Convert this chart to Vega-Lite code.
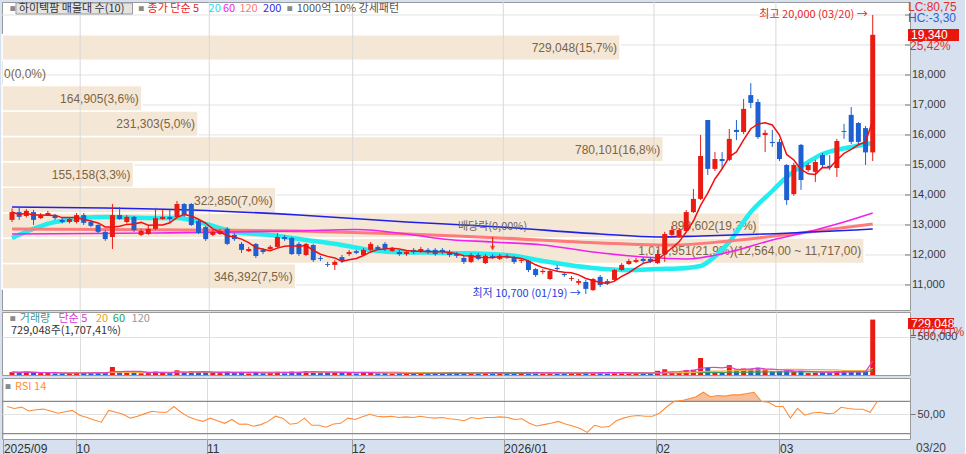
{
  "$schema": "https://vega.github.io/schema/vega-lite/v6.json",
  "background": "#d6e0ee",
  "padding": 0,
  "spacing": 0,
  "resolve": {"scale": {"x": "independent", "y": "independent"}},
  "config": {
    "view": {"fill": "white", "stroke": "#9a9a9a"},
    "axis": {"labelOverlap": false},
    "text": {"font": "Noto Sans CJK KR", "fontSize": 11, "baseline": "middle"}
  },
  "datasets": {
    "candles": [
      {"i":0,"d":"2025-09-17","o":13170,"h":13550,"l":13100,"c":13430,"v":38000,"rsi":62},
      {"i":1,"d":"2025-09-18","o":13430,"h":13600,"l":13170,"c":13270,"v":30000,"rsi":59},
      {"i":2,"d":"2025-09-19","o":13300,"h":13530,"l":13250,"c":13470,"v":45000,"rsi":61},
      {"i":3,"d":"2025-09-22","o":13430,"h":13500,"l":13000,"c":13170,"v":28000,"rsi":55},
      {"i":4,"d":"2025-09-23","o":13230,"h":13400,"l":13200,"c":13330,"v":25000,"rsi":57},
      {"i":5,"d":"2025-09-24","o":13330,"h":13470,"l":13300,"c":13400,"v":30000,"rsi":58},
      {"i":6,"d":"2025-09-25","o":13330,"h":13370,"l":13170,"c":13230,"v":22000,"rsi":55},
      {"i":7,"d":"2025-09-26","o":13170,"h":13230,"l":13050,"c":13100,"v":20000,"rsi":51.5},
      {"i":8,"d":"2025-09-29","o":13100,"h":13230,"l":13050,"c":13200,"v":25000,"rsi":54},
      {"i":9,"d":"2025-09-30","o":13100,"h":13400,"l":13050,"c":13330,"v":35000,"rsi":56},
      {"i":10,"d":"2025-10-01","o":13330,"h":13400,"l":13000,"c":13070,"v":30000,"rsi":48.5},
      {"i":11,"d":"2025-10-02","o":13100,"h":13150,"l":12930,"c":12970,"v":25000,"rsi":45},
      {"i":12,"d":"2025-10-10","o":13000,"h":13030,"l":12730,"c":12770,"v":28000,"rsi":41},
      {"i":13,"d":"2025-10-13","o":12770,"h":12830,"l":12470,"c":12530,"v":30000,"rsi":37.7},
      {"i":14,"d":"2025-10-14","o":12600,"h":13700,"l":12200,"c":13330,"v":105000,"rsi":56},
      {"i":15,"d":"2025-10-15","o":13330,"h":13600,"l":13170,"c":13200,"v":40000,"rsi":53},
      {"i":16,"d":"2025-10-16","o":13100,"h":13330,"l":13050,"c":13270,"v":30000,"rsi":50},
      {"i":17,"d":"2025-10-17","o":13270,"h":13300,"l":12770,"c":12830,"v":35000,"rsi":44},
      {"i":18,"d":"2025-10-20","o":12670,"h":12870,"l":12630,"c":12800,"v":22000,"rsi":47},
      {"i":19,"d":"2025-10-21","o":12700,"h":12970,"l":12670,"c":12870,"v":25000,"rsi":51},
      {"i":20,"d":"2025-10-22","o":12870,"h":13570,"l":12830,"c":13230,"v":45000,"rsi":54.6},
      {"i":21,"d":"2025-10-23","o":13200,"h":13500,"l":13170,"c":13270,"v":28000,"rsi":53},
      {"i":22,"d":"2025-10-24","o":13270,"h":13500,"l":13100,"c":13200,"v":25000,"rsi":53},
      {"i":23,"d":"2025-10-27","o":13270,"h":13800,"l":13230,"c":13700,"v":62000,"rsi":62},
      {"i":24,"d":"2025-10-28","o":13700,"h":13730,"l":13270,"c":13330,"v":35000,"rsi":53},
      {"i":25,"d":"2025-10-29","o":13700,"h":13730,"l":12970,"c":13000,"v":48000,"rsi":46},
      {"i":26,"d":"2025-10-30","o":13130,"h":13170,"l":12700,"c":12730,"v":40000,"rsi":42},
      {"i":27,"d":"2025-10-31","o":12930,"h":12970,"l":12470,"c":12530,"v":35000,"rsi":39},
      {"i":28,"d":"2025-11-03","o":12670,"h":12830,"l":12630,"c":12770,"v":30000,"rsi":44},
      {"i":29,"d":"2025-11-04","o":12700,"h":12870,"l":12670,"c":12800,"v":25000,"rsi":40},
      {"i":30,"d":"2025-11-05","o":12870,"h":12930,"l":12330,"c":12370,"v":45000,"rsi":36},
      {"i":31,"d":"2025-11-06","o":12670,"h":12730,"l":12470,"c":12530,"v":25000,"rsi":42},
      {"i":32,"d":"2025-11-07","o":12370,"h":12430,"l":12070,"c":12170,"v":38000,"rsi":34.6},
      {"i":33,"d":"2025-11-10","o":12130,"h":12270,"l":12100,"c":12200,"v":20000,"rsi":35},
      {"i":34,"d":"2025-11-11","o":12370,"h":12400,"l":11900,"c":11970,"v":40000,"rsi":31.5},
      {"i":35,"d":"2025-11-12","o":12170,"h":12230,"l":12030,"c":12100,"v":22000,"rsi":34},
      {"i":36,"d":"2025-11-13","o":12200,"h":12330,"l":12170,"c":12270,"v":25000,"rsi":39},
      {"i":37,"d":"2025-11-14","o":12270,"h":12730,"l":12230,"c":12600,"v":42000,"rsi":47},
      {"i":38,"d":"2025-11-17","o":12600,"h":12670,"l":12470,"c":12530,"v":22000,"rsi":44},
      {"i":39,"d":"2025-11-18","o":12570,"h":12600,"l":12000,"c":12030,"v":45000,"rsi":34.6},
      {"i":40,"d":"2025-11-19","o":12370,"h":12430,"l":11970,"c":12030,"v":35000,"rsi":36},
      {"i":41,"d":"2025-11-20","o":12000,"h":12400,"l":11970,"c":12370,"v":50000,"rsi":44},
      {"i":42,"d":"2025-11-21","o":12330,"h":12370,"l":11770,"c":11830,"v":48000,"rsi":33},
      {"i":43,"d":"2025-11-24","o":11900,"h":11970,"l":11800,"c":11870,"v":25000,"rsi":33},
      {"i":44,"d":"2025-11-25","o":11700,"h":11770,"l":11600,"c":11670,"v":30000,"rsi":30},
      {"i":45,"d":"2025-11-26","o":11670,"h":11830,"l":11500,"c":11770,"v":38000,"rsi":35},
      {"i":46,"d":"2025-11-27","o":11930,"h":12000,"l":11730,"c":11800,"v":30000,"rsi":36},
      {"i":47,"d":"2025-11-28","o":12030,"h":12170,"l":11970,"c":12100,"v":35000,"rsi":44},
      {"i":48,"d":"2025-12-01","o":12130,"h":12170,"l":12030,"c":12070,"v":20000,"rsi":42},
      {"i":49,"d":"2025-12-02","o":12000,"h":12230,"l":11970,"c":12170,"v":30000,"rsi":46},
      {"i":50,"d":"2025-12-03","o":12170,"h":12430,"l":12130,"c":12370,"v":38000,"rsi":50},
      {"i":51,"d":"2025-12-04","o":12270,"h":12330,"l":12170,"c":12200,"v":20000,"rsi":47},
      {"i":52,"d":"2025-12-05","o":12370,"h":12430,"l":12130,"c":12200,"v":25000,"rsi":46},
      {"i":53,"d":"2025-12-08","o":12130,"h":12270,"l":12100,"c":12200,"v":18000,"rsi":47},
      {"i":54,"d":"2025-12-09","o":12100,"h":12170,"l":11970,"c":12030,"v":22000,"rsi":45},
      {"i":55,"d":"2025-12-10","o":12030,"h":12170,"l":11970,"c":12100,"v":20000,"rsi":46},
      {"i":56,"d":"2025-12-11","o":12170,"h":12230,"l":12030,"c":12100,"v":18000,"rsi":45},
      {"i":57,"d":"2025-12-12","o":12130,"h":12270,"l":12070,"c":12200,"v":22000,"rsi":47},
      {"i":58,"d":"2025-12-15","o":12170,"h":12230,"l":12030,"c":12100,"v":18000,"rsi":45},
      {"i":59,"d":"2025-12-16","o":12170,"h":12230,"l":11970,"c":12030,"v":25000,"rsi":44},
      {"i":60,"d":"2025-12-17","o":12170,"h":12230,"l":12030,"c":12100,"v":20000,"rsi":45},
      {"i":61,"d":"2025-12-18","o":12100,"h":12170,"l":11930,"c":12000,"v":22000,"rsi":43},
      {"i":62,"d":"2025-12-19","o":12030,"h":12100,"l":11900,"c":11970,"v":18000,"rsi":42},
      {"i":63,"d":"2025-12-22","o":11900,"h":11970,"l":11700,"c":11770,"v":25000,"rsi":40},
      {"i":64,"d":"2025-12-23","o":11770,"h":12070,"l":11730,"c":12000,"v":30000,"rsi":45},
      {"i":65,"d":"2025-12-24","o":12000,"h":12070,"l":11830,"c":11870,"v":20000,"rsi":43},
      {"i":66,"d":"2025-12-26","o":11730,"h":12030,"l":11700,"c":11970,"v":28000,"rsi":45},
      {"i":67,"d":"2025-12-29","o":11970,"h":12030,"l":11870,"c":11930,"v":20000,"rsi":45},
      {"i":68,"d":"2025-12-30","o":11870,"h":12030,"l":11830,"c":11970,"v":22000,"rsi":46},
      {"i":69,"d":"2026-01-02","o":11970,"h":12030,"l":11870,"c":11930,"v":18000,"rsi":45},
      {"i":70,"d":"2026-01-05","o":11930,"h":11970,"l":11700,"c":11770,"v":25000,"rsi":42},
      {"i":71,"d":"2026-01-06","o":11800,"h":11900,"l":11730,"c":11830,"v":18000,"rsi":43},
      {"i":72,"d":"2026-01-07","o":11800,"h":11830,"l":11430,"c":11500,"v":40000,"rsi":36},
      {"i":73,"d":"2026-01-08","o":11530,"h":11570,"l":11270,"c":11330,"v":35000,"rsi":32},
      {"i":74,"d":"2026-01-09","o":11430,"h":11530,"l":11370,"c":11470,"v":20000,"rsi":34},
      {"i":75,"d":"2026-01-12","o":11200,"h":11530,"l":11170,"c":11470,"v":30000,"rsi":36},
      {"i":76,"d":"2026-01-13","o":11570,"h":11670,"l":11470,"c":11530,"v":22000,"rsi":39},
      {"i":77,"d":"2026-01-14","o":11370,"h":11430,"l":11270,"c":11330,"v":25000,"rsi":35},
      {"i":78,"d":"2026-01-15","o":11200,"h":11300,"l":11130,"c":11230,"v":20000,"rsi":32},
      {"i":79,"d":"2026-01-16","o":11070,"h":11200,"l":11000,"c":11130,"v":22000,"rsi":28},
      {"i":80,"d":"2026-01-19","o":11100,"h":11170,"l":10700,"c":10870,"v":38000,"rsi":22},
      {"i":81,"d":"2026-01-20","o":10830,"h":11230,"l":10800,"c":11200,"v":40000,"rsi":33},
      {"i":82,"d":"2026-01-21","o":11270,"h":11330,"l":10930,"c":11000,"v":30000,"rsi":30},
      {"i":83,"d":"2026-01-22","o":11130,"h":11200,"l":11000,"c":11070,"v":20000,"rsi":31},
      {"i":84,"d":"2026-01-23","o":11170,"h":11530,"l":11130,"c":11500,"v":35000,"rsi":40},
      {"i":85,"d":"2026-01-26","o":11500,"h":11730,"l":11470,"c":11670,"v":30000,"rsi":44},
      {"i":86,"d":"2026-01-27","o":11700,"h":11870,"l":11670,"c":11800,"v":22000,"rsi":47},
      {"i":87,"d":"2026-01-28","o":11770,"h":11900,"l":11730,"c":11830,"v":20000,"rsi":48},
      {"i":88,"d":"2026-01-29","o":11870,"h":11930,"l":11730,"c":11800,"v":22000,"rsi":47},
      {"i":89,"d":"2026-01-30","o":11870,"h":11930,"l":11730,"c":11800,"v":25000,"rsi":47},
      {"i":90,"d":"2026-02-02","o":11730,"h":12170,"l":11700,"c":12030,"v":55000,"rsi":52},
      {"i":91,"d":"2026-02-03","o":12030,"h":12770,"l":11770,"c":12700,"v":75000,"rsi":62},
      {"i":92,"d":"2026-02-04","o":12670,"h":12970,"l":12600,"c":12830,"v":35000,"rsi":70},
      {"i":93,"d":"2026-02-05","o":12600,"h":12900,"l":12570,"c":12830,"v":40000,"rsi":71},
      {"i":94,"d":"2026-02-06","o":12800,"h":13500,"l":12770,"c":13430,"v":65000,"rsi":74},
      {"i":95,"d":"2026-02-09","o":13430,"h":14200,"l":13400,"c":13870,"v":70000,"rsi":77},
      {"i":96,"d":"2026-02-10","o":13870,"h":16000,"l":13830,"c":15300,"v":224000,"rsi":84},
      {"i":97,"d":"2026-02-11","o":16500,"h":16500,"l":14670,"c":14870,"v":95000,"rsi":77},
      {"i":98,"d":"2026-02-12","o":14870,"h":15430,"l":14800,"c":15200,"v":45000,"rsi":79},
      {"i":99,"d":"2026-02-13","o":15200,"h":15430,"l":14870,"c":15130,"v":35000,"rsi":78},
      {"i":100,"d":"2026-02-19","o":15170,"h":16200,"l":15130,"c":15870,"v":130000,"rsi":80},
      {"i":101,"d":"2026-02-20","o":16170,"h":16500,"l":15830,"c":16100,"v":70000,"rsi":80},
      {"i":102,"d":"2026-02-23","o":16100,"h":17200,"l":16030,"c":16870,"v":85000,"rsi":82},
      {"i":103,"d":"2026-02-24","o":17330,"h":17730,"l":16900,"c":17070,"v":80000,"rsi":84},
      {"i":104,"d":"2026-02-25","o":17100,"h":17200,"l":15870,"c":15930,"v":95000,"rsi":70},
      {"i":105,"d":"2026-02-26","o":16000,"h":16170,"l":15430,"c":16070,"v":75000,"rsi":68.5},
      {"i":106,"d":"2026-02-27","o":15770,"h":16170,"l":15600,"c":15730,"v":45000,"rsi":62},
      {"i":107,"d":"2026-03-03","o":15770,"h":15870,"l":15130,"c":15200,"v":50000,"rsi":62},
      {"i":108,"d":"2026-03-04","o":15000,"h":15030,"l":13670,"c":13830,"v":60000,"rsi":44},
      {"i":109,"d":"2026-03-05","o":14030,"h":15070,"l":13970,"c":15000,"v":45000,"rsi":59},
      {"i":110,"d":"2026-03-06","o":15670,"h":15700,"l":14170,"c":14500,"v":55000,"rsi":48.5},
      {"i":111,"d":"2026-03-09","o":14830,"h":15070,"l":14770,"c":15000,"v":25000,"rsi":52},
      {"i":112,"d":"2026-03-10","o":14770,"h":15170,"l":14430,"c":15100,"v":30000,"rsi":53},
      {"i":113,"d":"2026-03-11","o":15330,"h":15400,"l":14930,"c":15000,"v":35000,"rsi":51},
      {"i":114,"d":"2026-03-12","o":14970,"h":15330,"l":14830,"c":14930,"v":25000,"rsi":51.5},
      {"i":115,"d":"2026-03-13","o":14900,"h":15870,"l":14600,"c":15800,"v":50000,"rsi":60.8},
      {"i":116,"d":"2026-03-16","o":16130,"h":16370,"l":15870,"c":16100,"v":50000,"rsi":59},
      {"i":117,"d":"2026-03-17","o":16670,"h":16930,"l":15700,"c":15770,"v":45000,"rsi":57.7},
      {"i":118,"d":"2026-03-18","o":16400,"h":16430,"l":15700,"c":15770,"v":40000,"rsi":57.7},
      {"i":119,"d":"2026-03-19","o":16230,"h":16300,"l":15000,"c":15420,"v":42700,"rsi":53},
      {"i":120,"d":"2026-03-20","o":15420,"h":20000,"l":15130,"c":19340,"v":729048,"rsi":70}
    ],
    "ma": [
      {"k":"20","i":0,"p":12567},{"k":"20","i":6,"p":13100},{"k":"20","i":13,"p":13267},{"k":"20","i":20,"p":13233},
      {"k":"20","i":23,"p":13233},{"k":"20","i":27,"p":13033},{"k":"20","i":31,"p":12767},{"k":"20","i":36,"p":12667},
      {"k":"20","i":41,"p":12500},{"k":"20","i":46,"p":12333},{"k":"20","i":49,"p":12200},{"k":"20","i":53,"p":12100},
      {"k":"20","i":61,"p":12067},{"k":"20","i":69,"p":12000},{"k":"20","i":74,"p":11800},{"k":"20","i":81,"p":11567},
      {"k":"20","i":86,"p":11500},{"k":"20","i":90,"p":11533},{"k":"20","i":93,"p":11550},{"k":"20","i":96,"p":11633},
      {"k":"20","i":98,"p":11950},{"k":"20","i":100,"p":12433},{"k":"20","i":103,"p":13433},{"k":"20","i":106,"p":14133},
      {"k":"20","i":108,"p":14600},{"k":"20","i":111,"p":15100},{"k":"20","i":113,"p":15367},{"k":"20","i":117,"p":15600},
      {"k":"20","i":120,"p":15733},
      {"k":"60","i":0,"p":12700},{"k":"60","i":20,"p":12733},{"k":"60","i":40,"p":12800},{"k":"60","i":48,"p":12850},
      {"k":"60","i":55,"p":12700},{"k":"60","i":60,"p":12533},{"k":"60","i":67,"p":12433},{"k":"60","i":74,"p":12333},
      {"k":"60","i":81,"p":12100},{"k":"60","i":88,"p":11933},{"k":"60","i":94,"p":11867},{"k":"60","i":100,"p":12100},
      {"k":"60","i":106,"p":12500},{"k":"60","i":112,"p":12833},{"k":"60","i":116,"p":13100},{"k":"60","i":120,"p":13400},
      {"k":"120","i":0,"p":12867},{"k":"120","i":25,"p":12833},{"k":"120","i":40,"p":12800},{"k":"120","i":55,"p":12700},
      {"k":"120","i":62,"p":12633},{"k":"120","i":68,"p":12567},{"k":"120","i":82,"p":12400},{"k":"120","i":92,"p":12333},
      {"k":"120","i":100,"p":12467},{"k":"120","i":110,"p":12733},{"k":"120","i":120,"p":13033},
      {"k":"200","i":0,"p":13600},{"k":"200","i":13,"p":13567},{"k":"200","i":25,"p":13500},{"k":"200","i":40,"p":13333},
      {"k":"200","i":55,"p":13100},{"k":"200","i":68,"p":12933},{"k":"200","i":82,"p":12700},{"k":"200","i":90,"p":12600},
      {"k":"200","i":96,"p":12633},{"k":"200","i":105,"p":12700},{"k":"200","i":120,"p":12867}
    ],
    "profile": [
      {"lo":10870,"hi":11717,"v":346392,"t":"346,392(7,5%)"},
      {"lo":11717,"hi":12564,"v":1016951,"t":"1,016,951(21,9%)(12,564,00 ~ 11,717,00)"},
      {"lo":12564,"hi":13411,"v":893602,"t":"893,602(19,3%)"},
      {"lo":13411,"hi":14258,"v":322850,"t":"322,850(7,0%)"},
      {"lo":14258,"hi":15105,"v":155158,"t":"155,158(3,3%)"},
      {"lo":15105,"hi":15952,"v":780101,"t":"780,101(16,8%)"},
      {"lo":15952,"hi":16799,"v":231303,"t":"231,303(5,0%)"},
      {"lo":16799,"hi":17646,"v":164905,"t":"164,905(3,6%)"},
      {"lo":17646,"hi":18493,"v":0,"t":"0(0,0%)"},
      {"lo":18493,"hi":19340,"v":729048,"t":"729,048(15,7%)"}
    ],
    "pticks": [
      {"p":11000,"t":"11,000"},{"p":12000,"t":"12,000"},{"p":13000,"t":"13,000"},{"p":14000,"t":"14,000"},
      {"p":15000,"t":"15,000"},{"p":16000,"t":"16,000"},{"p":17000,"t":"17,000"},{"p":18000,"t":"18,000"},
      {"p":19000,"t":"19,000"},{"p":20000,"t":"20,000"}
    ],
    "months": [
      {"b":9.5},{"b":27.5},{"b":47.5},{"b":68.5},{"b":89.5},{"b":106.5}
    ]
  },
  "vconcat": [
    {
      "width": 908,
      "height": 308,
      "resolve": {"scale": {"x": "independent"}},
      "layer": [
        {
          "data": {"name": "profile"},
          "encoding": {
            "y": {"field": "lo", "type": "quantitative", "scale": {"domain": [10166, 20433], "nice": false, "zero": false}, "axis": null}
          },
          "layer": [
            {
              "data": {"name": "pticks"},
              "mark": {"type": "rule", "color": "#e2e2e2", "strokeWidth": 1},
              "encoding": {"y": {"field": "p", "type": "quantitative", "axis": null}}
            },
            {
              "mark": {"type": "bar", "color": "#f5e7d6", "stroke": "white", "strokeWidth": 1.5},
              "encoding": {
                "x": {"field": "v", "type": "quantitative", "scale": {"domain": [0, 1071000], "nice": false}, "axis": null},
                "x2": {"datum": 0},
                "y2": {"field": "hi"}
              }
            },
            {
              "transform": [{"filter": "datum.v > 0"}],
              "mark": {"type": "text", "align": "right", "dx": -3, "dy": -12, "font": "Liberation Sans", "fontSize": 12, "color": "#7a6446"},
              "encoding": {
                "x": {"field": "v", "type": "quantitative", "axis": null},
                "text": {"field": "t"}
              }
            },
            {
              "transform": [{"filter": "datum.v == 0"}],
              "mark": {"type": "text", "align": "left", "dx": 2, "dy": -12, "font": "Liberation Sans", "fontSize": 12, "color": "#7a6446"},
              "encoding": {
                "x": {"field": "v", "type": "quantitative", "axis": null},
                "text": {"field": "t"}
              }
            }
          ]
        },
        {
          "data": {"name": "candles"},
          "layer": [
            {
              "data": {"name": "months"},
              "mark": {"type": "rule", "color": "#d8d8d8", "strokeWidth": 1},
              "encoding": {"x": {"field": "b", "type": "quantitative", "scale": {"domain": [-0.7, 124.5], "nice": false, "zero": false}, "axis": null}}
            },
            {
              "data": {"name": "ma"},
              "transform": [{"filter": "datum.k == '20'"}],
              "mark": {"type": "line", "color": "#22eef0", "strokeWidth": 4.5, "interpolate": "monotone"},
              "encoding": {
                "x": {"field": "i", "type": "quantitative", "scale": {"domain": [-0.7, 124.5], "nice": false, "zero": false}, "axis": null},
                "y": {"field": "p", "type": "quantitative", "scale": {"domain": [10166, 20433], "nice": false, "zero": false}, "axis": null}
              }
            },
            {
              "data": {"name": "ma"},
              "transform": [{"filter": "datum.k == '120'"}],
              "mark": {"type": "line", "color": "#ff7a7a", "strokeWidth": 3, "interpolate": "monotone"},
              "encoding": {"x": {"field": "i", "type": "quantitative", "axis": null}, "y": {"field": "p", "type": "quantitative", "axis": null}}
            },
            {
              "data": {"name": "ma"},
              "transform": [{"filter": "datum.k == '60'"}],
              "mark": {"type": "line", "color": "#f022f0", "strokeWidth": 1.6, "interpolate": "monotone"},
              "encoding": {"x": {"field": "i", "type": "quantitative", "axis": null}, "y": {"field": "p", "type": "quantitative", "axis": null}}
            },
            {
              "data": {"name": "ma"},
              "transform": [{"filter": "datum.k == '200'"}],
              "mark": {"type": "line", "color": "#2020e8", "strokeWidth": 1.6, "interpolate": "monotone"},
              "encoding": {"x": {"field": "i", "type": "quantitative", "axis": null}, "y": {"field": "p", "type": "quantitative", "axis": null}}
            },
            {
              "mark": {"type": "rule", "strokeWidth": 1},
              "encoding": {
                "x": {"field": "i", "type": "quantitative", "axis": null},
                "y": {"field": "l", "type": "quantitative", "axis": null},
                "y2": {"field": "h"},
                "color": {"condition": {"test": "datum.c >= datum.o", "value": "#ea1b13"}, "value": "#1e60d2"}
              }
            },
            {
              "mark": {"type": "bar", "size": 5},
              "encoding": {
                "x": {"field": "i", "type": "quantitative", "axis": null},
                "y": {"field": "o", "type": "quantitative", "axis": null},
                "y2": {"field": "c"},
                "color": {"condition": {"test": "datum.c >= datum.o", "value": "#ea1b13"}, "value": "#1e60d2"}
              }
            },
            {
              "transform": [{"window": [{"op": "mean", "field": "c", "as": "ma5"}], "frame": [-4, 0], "sort": [{"field": "i"}]}],
              "mark": {"type": "line", "color": "#f01010", "strokeWidth": 1.5},
              "encoding": {"x": {"field": "i", "type": "quantitative", "axis": null}, "y": {"field": "ma5", "type": "quantitative", "axis": null}}
            },
            {
              "data": {"name": "pticks"},
              "mark": {"type": "rule", "color": "#777777", "x2Offset": 5},
              "encoding": {
                "x": {"datum": 124.5, "type": "quantitative", "axis": null}, "x2": {"datum": 124.5},
                "y": {"field": "p", "type": "quantitative", "axis": null}
              }
            },
            {
              "data": {"name": "pticks"},
              "transform": [{"filter": "datum.p <= 18000"}],
              "mark": {"type": "text", "align": "left", "dx": 7, "font": "Liberation Sans", "fontSize": 11, "color": "#3a3a3a"},
              "encoding": {
                "x": {"datum": 124.5, "type": "quantitative", "axis": null},
                "y": {"field": "p", "type": "quantitative", "axis": null},
                "text": {"field": "t"}
              }
            },
            {
              "data": {"values": [{}]},
              "mark": {"type": "rect", "fill": "#e4e4e4", "stroke": "#9a9a9a", "strokeWidth": 1},
              "encoding": {
                "x": {"datum": 0.55, "type": "quantitative", "axis": null}, "x2": {"datum": 16.8},
                "y": {"datum": 20400, "type": "quantitative", "axis": null}, "y2": {"datum": 20033}
              }
            },
            {
              "data": {"values": [{}]},
              "mark": {"type": "text", "text": "하이텍팜 매물대 수(10)", "align": "left", "color": "#333333"},
              "encoding": {"x": {"datum": 0.95, "type": "quantitative", "axis": null}, "y": {"datum": 20210, "type": "quantitative", "axis": null}}
            },
            {
              "data": {"values": [{}]},
              "mark": {"type": "text", "text": "■", "align": "left", "fontSize": 6, "color": "#8a8a8a"},
              "encoding": {"x": {"datum": -0.3, "type": "quantitative", "axis": null}, "y": {"datum": 20210, "type": "quantitative", "axis": null}}
            },
            {
              "data": {"values": [{}]},
              "mark": {"type": "text", "text": "■", "align": "left", "fontSize": 6, "color": "#8a8a8a"},
              "encoding": {"x": {"datum": 17.6, "type": "quantitative", "axis": null}, "y": {"datum": 20210, "type": "quantitative", "axis": null}}
            },
            {
              "data": {"values": [{}]},
              "mark": {"type": "text", "text": "■", "align": "left", "fontSize": 6, "color": "#8a8a8a"},
              "encoding": {"x": {"datum": 38.3, "type": "quantitative", "axis": null}, "y": {"datum": 20210, "type": "quantitative", "axis": null}}
            },
            {
              "data": {"values": [{}]},
              "mark": {"type": "text", "text": "종가 단순 5", "align": "left", "color": "#ee2222"},
              "encoding": {"x": {"datum": 18.9, "type": "quantitative", "axis": null}, "y": {"datum": 20210, "type": "quantitative", "axis": null}}
            },
            {
              "data": {"values": [{}]},
              "mark": {"type": "text", "text": "20", "align": "left", "color": "#22dcee"},
              "encoding": {"x": {"datum": 27.4, "type": "quantitative", "axis": null}, "y": {"datum": 20210, "type": "quantitative", "axis": null}}
            },
            {
              "data": {"values": [{}]},
              "mark": {"type": "text", "text": "60", "align": "left", "color": "#ee22ee"},
              "encoding": {"x": {"datum": 29.4, "type": "quantitative", "axis": null}, "y": {"datum": 20210, "type": "quantitative", "axis": null}}
            },
            {
              "data": {"values": [{}]},
              "mark": {"type": "text", "text": "120", "align": "left", "color": "#ff7a7a"},
              "encoding": {"x": {"datum": 31.7, "type": "quantitative", "axis": null}, "y": {"datum": 20210, "type": "quantitative", "axis": null}}
            },
            {
              "data": {"values": [{}]},
              "mark": {"type": "text", "text": "200", "align": "left", "color": "#3030e0"},
              "encoding": {"x": {"datum": 35.0, "type": "quantitative", "axis": null}, "y": {"datum": 20210, "type": "quantitative", "axis": null}}
            },
            {
              "data": {"values": [{}]},
              "mark": {"type": "text", "text": "1000억 10% 강세패턴", "align": "left", "color": "#555555"},
              "encoding": {"x": {"datum": 39.7, "type": "quantitative", "axis": null}, "y": {"datum": 20210, "type": "quantitative", "axis": null}}
            },
            {
              "data": {"values": [{}]},
              "mark": {"type": "text", "text": "최고 20,000 (03/20) →", "align": "right", "dx": -5, "color": "#e8261c"},
              "encoding": {"x": {"datum": 120, "type": "quantitative", "axis": null}, "y": {"datum": 20000, "type": "quantitative", "axis": null}}
            },
            {
              "data": {"values": [{}]},
              "mark": {"type": "text", "text": "최저 10,700 (01/19) →", "align": "right", "dx": -5, "color": "#2a3fd8"},
              "encoding": {"x": {"datum": 80, "type": "quantitative", "axis": null}, "y": {"datum": 10700, "type": "quantitative", "axis": null}}
            },
            {
              "data": {"values": [{}]},
              "mark": {"type": "text", "text": "배당락(0,00%)", "color": "#666666"},
              "encoding": {"x": {"datum": 67, "type": "quantitative", "axis": null}, "y": {"datum": 12933, "type": "quantitative", "axis": null}}
            },
            {
              "data": {"values": [{}]},
              "mark": {"type": "rule", "color": "#e8261c", "strokeWidth": 1.2},
              "encoding": {"x": {"datum": 67, "type": "quantitative", "axis": null}, "y": {"datum": 12600, "type": "quantitative", "axis": null}, "y2": {"datum": 12200}}
            },
            {
              "data": {"values": [{}]},
              "mark": {"type": "point", "shape": "triangle-down", "filled": true, "size": 30, "color": "#e8261c"},
              "encoding": {"x": {"datum": 67, "type": "quantitative", "axis": null}, "y": {"datum": 12230, "type": "quantitative", "axis": null}}
            },
            {
              "data": {"values": [{}]},
              "mark": {"type": "text", "text": "LC:80,75", "align": "left", "dx": 3, "font": "Liberation Sans", "fontSize": 12, "color": "#e03030"},
              "encoding": {"x": {"datum": 124.5, "type": "quantitative", "axis": null}, "y": {"datum": 20267, "type": "quantitative", "axis": null}}
            },
            {
              "data": {"values": [{}]},
              "mark": {"type": "text", "text": "HC:-3,30", "align": "left", "dx": 3, "font": "Liberation Sans", "fontSize": 12, "color": "#3060d0"},
              "encoding": {"x": {"datum": 124.5, "type": "quantitative", "axis": null}, "y": {"datum": 19900, "type": "quantitative", "axis": null}}
            },
            {
              "data": {"values": [{}]},
              "mark": {"type": "rect", "fill": "#e8170e", "xOffset": 3, "x2Offset": 54},
              "encoding": {
                "x": {"datum": 124.5, "type": "quantitative", "axis": null}, "x2": {"datum": 124.5},
                "y": {"datum": 19533, "type": "quantitative", "axis": null}, "y2": {"datum": 19133}
              }
            },
            {
              "data": {"values": [{}]},
              "mark": {"type": "text", "text": "19,340", "align": "left", "dx": 6, "font": "Liberation Sans", "fontSize": 12, "color": "white"},
              "encoding": {"x": {"datum": 124.5, "type": "quantitative", "axis": null}, "y": {"datum": 19340, "type": "quantitative", "axis": null}}
            },
            {
              "data": {"values": [{}]},
              "mark": {"type": "text", "text": "25,42%", "align": "left", "dx": 5, "font": "Liberation Sans", "fontSize": 12, "color": "#e03030"},
              "encoding": {"x": {"datum": 124.5, "type": "quantitative", "axis": null}, "y": {"datum": 18967, "type": "quantitative", "axis": null}}
            }
          ]
        }
      ]
    },
    {
      "width": 908,
      "height": 63,
      "data": {"name": "candles"},
      "layer": [
        {
          "mark": {"type": "bar", "size": 5},
          "encoding": {
            "x": {"field": "i", "type": "quantitative", "scale": {"domain": [-0.7, 124.5], "nice": false, "zero": false},
              "axis": {"values": [9.5, 27.5, 47.5, 68.5, 89.5, 106.5], "grid": true, "gridColor": "#dcdcdc", "labels": false, "ticks": false, "domain": false, "title": null}},
            "y": {"field": "v", "type": "quantitative", "scale": {"domain": [0, 828700], "nice": false},
              "axis": {"orient": "right", "values": [500000], "format": ",d", "grid": true, "gridColor": "#e2e2e2", "tickColor": "#777", "tickSize": 5,
                "domain": false, "labelColor": "#3a3a3a", "labelFont": "Liberation Sans", "labelFontSize": 11, "labelPadding": 2, "title": null}},
            "color": {"condition": {"test": "datum.c >= datum.o", "value": "#ea1b13"}, "value": "#1e60d2"}
          }
        },
        {
          "transform": [{"window": [{"op": "mean", "field": "v", "as": "v60"}], "frame": [-59, 0], "sort": [{"field": "i"}]}],
          "mark": {"type": "line", "color": "#3da05a", "strokeWidth": 1.2},
          "encoding": {"x": {"field": "i", "type": "quantitative"}, "y": {"field": "v60", "type": "quantitative"}}
        },
        {
          "transform": [{"window": [{"op": "mean", "field": "v", "as": "v20"}], "frame": [-19, 0], "sort": [{"field": "i"}]}],
          "mark": {"type": "line", "color": "#f5b041", "strokeWidth": 1.2},
          "encoding": {"x": {"field": "i", "type": "quantitative"}, "y": {"field": "v20", "type": "quantitative"}}
        },
        {
          "transform": [{"window": [{"op": "mean", "field": "v", "as": "v5"}], "frame": [-4, 0], "sort": [{"field": "i"}]}],
          "mark": {"type": "line", "color": "#e040d0", "strokeWidth": 1.2},
          "encoding": {"x": {"field": "i", "type": "quantitative"}, "y": {"field": "v5", "type": "quantitative"}}
        },
        {
          "data": {"values": [{}]},
          "mark": {"type": "text", "text": "■", "align": "left", "fontSize": 6, "color": "#8a8a8a"},
          "encoding": {"x": {"datum": -0.3, "type": "quantitative"}, "y": {"datum": 736600, "type": "quantitative"}}
        },
        {
          "data": {"values": [{}]},
          "mark": {"type": "text", "text": "거래량", "align": "left", "color": "#3a9a9a"},
          "encoding": {"x": {"datum": 1.09, "type": "quantitative"}, "y": {"datum": 736600, "type": "quantitative"}}
        },
        {
          "data": {"values": [{}]},
          "mark": {"type": "text", "text": "단순 5", "align": "left", "color": "#d838d8"},
          "encoding": {"x": {"datum": 6.47, "type": "quantitative"}, "y": {"datum": 736600, "type": "quantitative"}}
        },
        {
          "data": {"values": [{}]},
          "mark": {"type": "text", "text": "20", "align": "left", "color": "#f0a020"},
          "encoding": {"x": {"datum": 11.7, "type": "quantitative"}, "y": {"datum": 736600, "type": "quantitative"}}
        },
        {
          "data": {"values": [{}]},
          "mark": {"type": "text", "text": "60", "align": "left", "color": "#22a050"},
          "encoding": {"x": {"datum": 14.05, "type": "quantitative"}, "y": {"datum": 736600, "type": "quantitative"}}
        },
        {
          "data": {"values": [{}]},
          "mark": {"type": "text", "text": "120", "align": "left", "color": "#999999"},
          "encoding": {"x": {"datum": 16.67, "type": "quantitative"}, "y": {"datum": 736600, "type": "quantitative"}}
        },
        {
          "data": {"values": [{}]},
          "mark": {"type": "text", "text": "729,048주(1,707,41%)", "align": "left", "color": "#333333"},
          "encoding": {"x": {"datum": -0.15, "type": "quantitative"}, "y": {"datum": 578800, "type": "quantitative"}}
        },
        {
          "data": {"values": [{}]},
          "mark": {"type": "rect", "fill": "#e8170e", "xOffset": 3, "x2Offset": 49},
          "encoding": {
            "x": {"datum": 124.5, "type": "quantitative"}, "x2": {"datum": 124.5},
            "y": {"datum": 749800, "type": "quantitative"}, "y2": {"datum": 605000}
          }
        },
        {
          "data": {"values": [{}]},
          "mark": {"type": "text", "text": "729,048", "align": "left", "dx": 6, "font": "Liberation Sans", "fontSize": 12, "color": "white"},
          "encoding": {"x": {"datum": 124.5, "type": "quantitative"}, "y": {"datum": 677400, "type": "quantitative"}}
        },
        {
          "data": {"values": [{}]},
          "mark": {"type": "text", "text": "1707,41%", "align": "left", "dx": 5, "font": "Liberation Sans", "fontSize": 12, "color": "#e03030"},
          "encoding": {"x": {"datum": 124.5, "type": "quantitative"}, "y": {"datum": 565600, "type": "quantitative"}}
        }
      ]
    },
    {
      "width": 908,
      "height": 61,
      "data": {"name": "candles"},
      "layer": [
        {
          "transform": [{"filter": "datum.i >= 92 && datum.i <= 104"}],
          "mark": {"type": "area", "color": "#f6b48a", "opacity": 0.85},
          "encoding": {
            "x": {"field": "i", "type": "quantitative", "scale": {"domain": [-0.7, 124.5], "nice": false, "zero": false},
              "axis": {"values": [-0.5, 9.5, 27.5, 47.5, 68.5, 89.5, 106.5], "grid": true, "gridColor": "#dcdcdc",
                "labelExpr": "datum.value < 0 ? '2025/09' : datum.value < 10 ? '10' : datum.value < 28 ? '11' : datum.value < 48 ? '12' : datum.value < 69 ? '2026/01' : datum.value < 90 ? '02' : '03'",
                "labelAlign": "left", "labelBaseline": "middle", "labelPadding": -8, "labelDx": 3, "labelFont": "Liberation Sans", "labelFontSize": 12,
                "labelColor": "#333333", "tickSize": 17, "tickColor": "#9a9a9a", "domain": false, "title": null, "labelFlush": false, "labelOverlap": false}},
            "y": {"field": "rsi", "type": "quantitative", "scale": {"domain": [11.8, 106], "nice": false, "zero": false},
              "axis": {"orient": "right", "values": [50], "labelExpr": "'50,00'", "grid": true, "gridColor": "#e2e2e2", "tickColor": "#777", "tickSize": 5,
                "domain": false, "labelColor": "#3a3a3a", "labelFont": "Liberation Sans", "labelFontSize": 11, "labelPadding": 2, "title": null}},
            "y2": {"datum": 70}
          }
        },
        {
          "data": {"values": [{}]},
          "mark": {"type": "rule", "color": "#8a8a8a", "strokeWidth": 1.2},
          "encoding": {"y": {"datum": 70, "type": "quantitative"}}
        },
        {
          "data": {"values": [{}]},
          "mark": {"type": "rule", "color": "#8a8a8a", "strokeWidth": 1.2},
          "encoding": {"y": {"datum": 20, "type": "quantitative"}}
        },
        {
          "mark": {"type": "line", "color": "#ff8c3a", "strokeWidth": 1.1},
          "encoding": {"x": {"field": "i", "type": "quantitative"}, "y": {"field": "rsi", "type": "quantitative"}}
        },
        {
          "data": {"values": [{}]},
          "mark": {"type": "text", "text": "■", "align": "left", "fontSize": 6, "color": "#8a8a8a"},
          "encoding": {"x": {"datum": -0.3, "type": "quantitative"}, "y": {"datum": 92, "type": "quantitative"}}
        },
        {
          "data": {"values": [{}]},
          "mark": {"type": "text", "text": "RSI 14", "align": "left", "color": "#ff8c3a"},
          "encoding": {"x": {"datum": 1.09, "type": "quantitative"}, "y": {"datum": 92, "type": "quantitative"}}
        },
        {
          "data": {"values": [{}]},
          "mark": {"type": "text", "text": "03/20", "align": "left", "dx": 6, "dy": 9, "font": "Liberation Sans", "fontSize": 12, "color": "#444444"},
          "encoding": {"x": {"datum": 124.5, "type": "quantitative"}, "y": {"datum": 11.8, "type": "quantitative"}}
        }
      ]
    }
  ]
}
